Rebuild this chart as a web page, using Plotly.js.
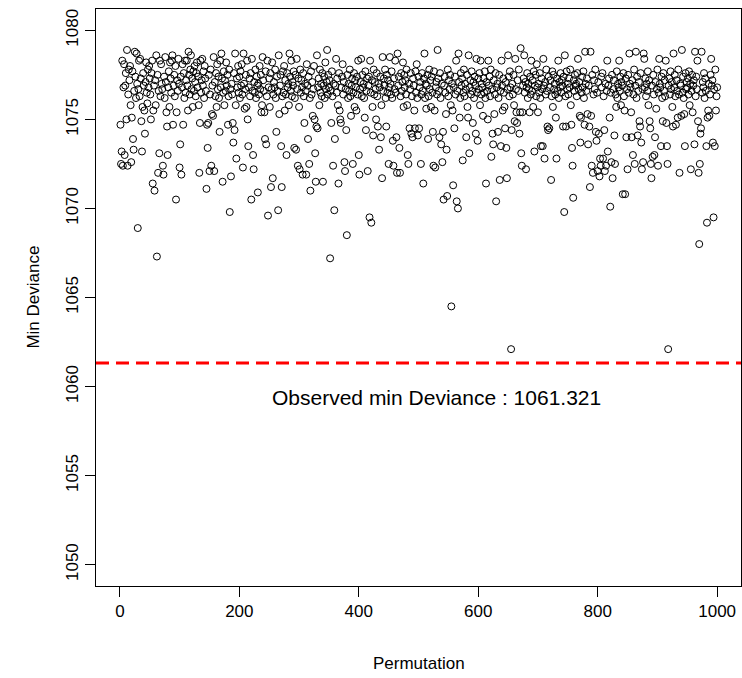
<!DOCTYPE html>
<html>
<head>
<meta charset="utf-8">
<script src="https://cdn.plot.ly/plotly-3.0.1.min.js"></script>
<style>html,body{margin:0;padding:0;background:#fff;}#chart{width:742px;height:678px;}</style>
</head>
<body>
<div id="chart"></div>
<script>
const minDeviance = [
1074.7,1072.5,1073.2,1078.3,1072.4,1076.8,1078.1,1073.0,1076.9,1077.6,1075.0,1078.9,1072.4,1076.4,1077.8,1077.2,1078.0,1075.8,1072.6,1075.1,1077.7,1073.9,1073.3,1076.6,1078.8,
1077.4,1076.2,1078.7,1077.0,1068.9,1076.7,1078.3,1076.3,1078.4,1077.3,1074.9,1073.2,1075.7,1077.6,1076.9,1075.5,1074.2,1077.1,1078.2,1076.5,1075.9,1077.8,1076.8,1078.0,1077.3,
1076.4,1075.0,1077.6,1078.3,1071.4,1075.5,1076.9,1071.0,1077.2,1075.8,1078.6,1067.3,1077.5,1072.0,1076.6,1073.1,1078.3,1076.3,1078.1,1077.0,1076.7,1072.4,1071.9,1077.4,1076.2,
1078.5,1077.1,1075.4,1074.6,1073.0,1076.8,1077.7,1075.7,1078.2,1077.3,1076.5,1078.3,1078.6,1074.7,1076.9,1077.5,1076.3,1078.0,1070.5,1075.4,1077.2,1076.6,1078.4,1077.0,1072.3,
1073.6,1077.4,1071.9,1076.8,1078.1,1074.7,1077.6,1076.2,1078.3,1076.5,1077.2,1078.3,1076.9,1075.5,1078.8,1077.5,1076.4,1077.8,1078.6,1076.7,1077.3,1075.7,1077.7,1076.6,1078.0,
1077.1,1076.3,1077.6,1078.2,1076.8,1077.4,1075.8,1072.0,1074.8,1078.3,1076.5,1077.2,1078.4,1076.9,1077.7,1076.2,1078.0,1077.3,1076.6,1071.1,1074.7,1073.4,1074.8,1077.5,1072.1,
1076.4,1077.8,1072.4,1075.3,1076.9,1075.2,1078.5,1072.1,1077.1,1076.3,1077.6,1075.7,1078.1,1076.7,1077.4,1076.2,1074.3,1078.3,1076.8,1078.7,1077.3,1071.5,1076.5,1077.7,1075.8,
1077.2,1076.6,1078.2,1076.9,1077.5,1074.7,1076.3,1077.8,1069.8,1076.7,1071.8,1077.0,1076.4,1074.8,1073.7,1077.6,1074.4,1078.7,1075.8,1072.8,1077.3,1076.8,1078.0,1076.5,1077.4,
1076.2,1077.7,1076.9,1078.1,1076.4,1072.3,1078.7,1077.0,1075.6,1076.7,1077.5,1075.7,1078.3,1075.0,1073.5,1076.8,1077.3,1076.3,1077.6,1070.5,1078.4,1076.6,1073.0,1072.2,1077.1,
1076.5,1077.8,1076.2,1077.4,1076.9,1070.9,1077.0,1076.4,1078.0,1076.7,1077.5,1075.4,1075.8,1078.5,1077.2,1076.6,1075.4,1073.9,1077.7,1073.6,1076.3,1078.3,1069.6,1076.8,1077.3,
1075.7,1077.6,1071.2,1076.7,1078.2,1071.7,1076.4,1077.1,1076.8,1077.8,1076.2,1074.3,1077.4,1076.6,1069.9,1078.6,1075.3,1076.9,1077.5,1073.5,1071.2,1076.3,1077.7,1076.5,1078.0,
1075.5,1077.2,1076.4,1073.0,1077.6,1076.8,1077.0,1075.8,1078.7,1077.4,1076.6,1078.3,1076.3,1077.1,1076.9,1077.7,1073.4,1076.2,1077.5,1073.3,1078.4,1076.7,1072.4,1077.3,1075.7,
1072.2,1077.8,1076.5,1077.2,1076.8,1071.9,1077.6,1076.3,1074.8,1077.0,1076.6,1071.9,1078.1,1076.9,1073.9,1077.4,1072.5,1076.2,1071.0,1077.7,1076.4,1077.1,1075.2,1076.7,1078.0,
1075.0,1073.1,1071.5,1074.6,1078.6,1074.5,1076.8,1077.3,1075.8,1077.8,1076.5,1077.0,1076.3,1077.6,1071.5,1076.9,1077.4,1076.2,1078.2,1076.7,1077.1,1078.9,1076.4,1077.5,1076.8,
1077.2,1067.2,1076.6,1074.8,1077.7,1076.3,1072.4,1077.0,1069.9,1073.9,1076.9,1078.4,1076.5,1077.3,1075.8,1071.4,1077.6,1075.5,1075.0,1074.8,1076.8,1077.4,1078.1,1076.4,1077.1,
1072.6,1072.1,1076.7,1074.4,1068.5,1077.5,1076.2,1077.0,1076.6,1077.8,1076.3,1075.2,1076.9,1077.3,1072.5,1076.5,1077.6,1075.7,1077.2,1076.8,1075.5,1077.4,1076.4,1078.3,1073.0,
1071.9,1076.7,1077.1,1078.4,1076.3,1077.5,1076.8,1077.0,1076.2,1075.1,1077.7,1074.4,1076.6,1077.3,1072.1,1076.9,1077.4,1069.5,1078.3,1076.5,1069.2,1077.2,1075.7,1074.1,1077.8,
1076.4,1077.1,1076.7,1075.0,1077.6,1076.3,1074.6,1077.0,1073.3,1076.8,1077.4,1074.0,1075.8,1071.7,1078.5,1076.6,1077.3,1076.9,1077.8,1076.2,1074.6,1077.5,1076.5,1077.2,1072.5,
1076.8,1078.5,1077.0,1076.4,1077.7,1076.2,1073.8,1072.4,1077.3,1076.7,1078.3,1076.5,1074.0,1072.0,1078.7,1076.9,1077.4,1073.4,1072.0,1076.3,1077.6,1076.6,1077.1,1078.2,1075.7,
1077.5,1076.8,1077.2,1076.4,1077.8,1075.8,1073.0,1072.5,1077.0,1074.5,1076.7,1077.6,1074.2,1076.3,1074.0,1077.3,1076.9,1075.5,1074.5,1077.7,1076.5,1078.1,1076.2,1074.1,1077.4,
1074.5,1076.8,1077.1,1072.5,1076.4,1077.6,1076.6,1071.4,1077.3,1078.7,1076.2,1077.0,1075.6,1076.9,1077.5,1073.9,1076.3,1077.8,1076.7,1077.2,1075.7,1077.4,1076.5,1074.3,1072.4,
1077.7,1075.5,1072.3,1076.8,1077.1,1076.4,1078.9,1077.3,1076.6,1074.0,1077.6,1076.2,1073.6,1077.0,1072.6,1074.3,1070.5,1076.9,1077.4,1076.5,1075.3,1073.3,1070.7,1077.8,1076.3,
1077.2,1076.7,1077.5,1075.8,1064.5,1077.0,1075.5,1071.3,1076.8,1074.5,1077.4,1076.4,1078.3,1070.4,1076.6,1070.0,1078.7,1077.1,1075.1,1076.2,1077.6,1076.9,1077.3,1072.7,1076.5,
1077.8,1076.3,1077.0,1076.7,1074.0,1077.5,1075.7,1075.1,1078.6,1073.1,1076.8,1077.2,1076.4,1077.7,1076.6,1074.8,1077.1,1076.2,1077.4,1076.9,1074.2,1078.4,1076.5,1073.8,1077.3,
1076.7,1077.6,1075.8,1078.3,1076.4,1077.0,1076.8,1075.2,1077.3,1076.5,1077.7,1076.2,1071.4,1077.1,1076.6,1075.0,1078.3,1076.9,1077.4,1076.3,1077.8,1072.9,1076.7,1074.2,1073.6,
1077.2,1075.3,1076.4,1077.6,1070.4,1076.8,1077.0,1074.3,1076.2,1077.5,1071.6,1076.6,1073.5,1078.3,1076.9,1075.5,1077.3,1076.5,1075.7,1074.5,1077.1,1073.4,1071.7,1076.7,1078.6,
1077.4,1076.3,1077.7,1076.8,1062.1,1074.4,1077.0,1076.4,1077.5,1075.8,1074.9,1078.4,1076.7,1075.4,1074.8,1077.2,1076.6,1077.8,1074.2,1075.4,1079.0,1073.1,1072.4,1075.4,1076.9,
1077.3,1078.6,1076.5,1077.1,1072.2,1076.8,1077.6,1076.2,1077.0,1076.7,1075.4,1077.4,1076.4,1078.3,1076.6,1077.2,1075.7,1077.7,1073.2,1076.9,1077.5,1076.3,1078.1,1076.8,1075.4,
1077.0,1076.5,1077.6,1076.2,1073.5,1077.3,1076.7,1073.5,1078.4,1076.9,1072.8,1077.1,1076.4,1077.8,1076.6,1074.6,1074.4,1077.4,1074.5,1076.8,1077.2,1071.6,1076.3,1077.7,1075.7,
1077.5,1076.7,1077.0,1076.4,1075.1,1072.8,1077.3,1076.6,1078.3,1076.2,1077.1,1076.8,1077.6,1076.5,1077.2,1076.9,1074.6,1077.4,1069.8,1078.6,1076.3,1074.6,1077.7,1076.7,1077.0,
1076.4,1077.3,1076.8,1077.8,1075.8,1074.7,1073.4,1072.4,1070.6,1077.2,1076.6,1077.5,1076.9,1077.0,1076.3,1077.6,1078.4,1076.7,1077.1,1075.2,1073.7,1075.1,1076.5,1077.4,1076.8,
1077.7,1076.2,1074.7,1078.8,1077.0,1076.6,1077.3,1075.3,1073.6,1076.9,1074.6,1071.2,1078.8,1075.2,1072.4,1077.5,1072.0,1076.4,1077.2,1076.7,1077.8,1074.3,1073.8,1076.5,1072.1,
1077.1,1074.2,1071.8,1072.8,1072.4,1077.4,1076.8,1077.6,1072.8,1076.3,1074.4,1072.1,1077.0,1072.4,1076.6,1078.3,1073.2,1076.9,1077.3,1075.1,1070.1,1076.5,1072.6,1077.5,1071.7,
1076.7,1077.2,1074.1,1072.5,1076.4,1075.7,1077.7,1076.2,1077.0,1076.8,1078.3,1076.6,1077.4,1075.8,1077.1,1076.9,1070.8,1077.6,1076.3,1075.5,1070.8,1077.3,1074.0,1076.7,1072.2,
1077.5,1076.5,1078.7,1077.0,1076.8,1075.4,1074.0,1077.2,1073.0,1076.4,1077.8,1072.5,1076.9,1078.8,1076.2,1077.4,1074.1,1076.6,1077.1,1074.9,1074.6,1077.6,1073.7,1072.2,1076.7,
1072.6,1078.7,1078.4,1076.8,1077.3,1076.3,1077.0,1076.6,1077.7,1075.8,1077.2,1074.9,1074.5,1072.5,1071.7,1076.9,1072.9,1077.5,1076.4,1073.0,1074.0,1077.1,1075.6,1076.7,1077.8,
1072.4,1076.5,1078.4,1077.0,1076.8,1073.5,1077.4,1076.2,1074.9,1077.6,1076.6,1077.2,1076.3,1078.3,1074.8,1073.5,1072.5,1062.1,1076.9,1077.3,1076.4,1077.7,1076.7,1077.1,1075.7,
1074.6,1078.7,1076.8,1077.5,1076.3,1074.7,1077.2,1076.6,1075.1,1077.8,1076.4,1072.0,1077.0,1076.9,1075.2,1078.9,1076.5,1077.4,1076.2,1075.3,1073.5,1077.6,1076.7,1077.1,1076.8,
1077.3,1076.4,1077.7,1075.8,1077.0,1072.2,1076.6,1077.5,1075.4,1076.9,1077.2,1073.6,1078.8,1076.3,1077.4,1076.7,1078.3,1074.9,1072.0,1068.0,1072.5,1074.2,1074.5,1078.8,1076.5,
1077.1,1076.8,1077.6,1076.2,1077.3,1076.6,1073.5,1069.2,1075.1,1075.5,1077.0,1075.2,1076.4,1077.5,1078.4,1076.9,1077.2,1073.7,1069.5,1076.7,1073.5,1077.8,1075.5,1076.3,1076.8
];
const permutation = minDeviance.map((_, i) => i + 1);
const xTicks = [0, 200, 400, 600, 800, 1000];
const yTicks = [1050, 1055, 1060, 1065, 1070, 1075, 1080];
const observedMin = 1061.321;
const observedLabel = "Observed min Deviance : " + observedMin;

const FONT = "Liberation Sans, Arial, Helvetica, sans-serif";

const trace = {
  x: permutation,
  y: minDeviance,
  type: "scatter",
  mode: "markers",
  marker: { symbol: "circle-open", size: 7, color: "#000", line: { width: 1, color: "#000" } },
  hoverinfo: "x+y"
};

const axisCommon = {
  ticks: "outside", ticklen: 10, tickwidth: 1, tickcolor: "#000",
  showline: true, mirror: true, linecolor: "#000", linewidth: 1,
  showgrid: false, zeroline: false,
  tickfont: { family: FONT, size: 17, color: "#000" }
};

const layout = {
  width: 742, height: 678,
  margin: { l: 96, r: 1, t: 9, b: 92, pad: 0 },
  paper_bgcolor: "#fff", plot_bgcolor: "#fff",
  font: { family: FONT, size: 17, color: "#000" },
  showlegend: false,
  xaxis: Object.assign({}, axisCommon, { range: [-39.96, 1039.96], tickmode: "array", tickvals: xTicks, ticktext: xTicks.map(String) }),
  yaxis: Object.assign({}, axisCommon, { range: [1048.8, 1081.2], tickmode: "array", tickvals: yTicks, ticktext: yTicks.map(String), tickangle: -90 }),
  shapes: [{
    type: "line", xref: "paper", x0: 0, x1: 1, yref: "y", y0: observedMin, y1: observedMin,
    line: { color: "#ff0000", width: 3, dash: "13px,7px" }
  }],
  annotations: [
    { text: observedLabel, xref: "x", yref: "y", x: 530, y: 1059.4, showarrow: false,
      font: { family: FONT, size: 21, color: "#000" }, xanchor: "center", yanchor: "middle" },
    { text: "Permutation", xref: "paper", yref: "paper", x: 0.5, y: -0.134, showarrow: false,
      font: { family: FONT, size: 17, color: "#000" }, xanchor: "center", yanchor: "middle" },
    { text: "Min Deviance", xref: "paper", yref: "paper", x: -0.0975, y: 0.5, showarrow: false, textangle: -90,
      font: { family: FONT, size: 17, color: "#000" }, xanchor: "center", yanchor: "middle" }
  ]
};

Plotly.newPlot("chart", [trace], layout, { displayModeBar: false, staticPlot: true });
</script>
</body>
</html>
